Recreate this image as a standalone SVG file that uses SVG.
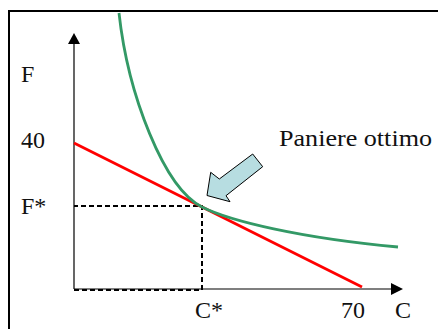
<svg xmlns="http://www.w3.org/2000/svg" width="438" height="329" viewBox="0 0 438 329">
<style>
text{font-family:'Liberation Serif','Times New Roman',serif;font-size:24px;fill:#111}
.axis{stroke:#000;stroke-width:1.2;fill:none}
.dash{stroke:#000;stroke-width:2;stroke-dasharray:5 3;fill:none}
</style>
<rect x="0" y="0" width="438" height="329" fill="#fff"/>
<rect x="9" y="11" width="440" height="330" fill="none" stroke="#000" stroke-width="2"/>
<g id="connectors">
<line class="axis" x1="74" y1="289" x2="74" y2="42" stroke="#555"/>
<polygon points="74,33 68,44 80,44" fill="#000"/>
<line class="axis" x1="74" y1="289" x2="393" y2="289"/>
<polygon points="403,289 391,283 391,295" fill="#000"/>
<polyline class="dash" points="74,290 202,290 202,206 74,206"/>
<line x1="74" y1="143" x2="362" y2="287" stroke="#ff0000" stroke-width="2.8"/>
<path d="M119,13 C128,95 164,188 202,207 C230,221 300,238 398,247" fill="none" stroke="#339966" stroke-width="2.8"/>
</g>
<g id="arrow">
<polygon points="252.7,154 262.7,166.7 226,195.7 230,201.7 207,195.5 210.7,172.3 219.3,179" fill="#b7dde1" stroke="#000" stroke-width="1"/>
</g>
<g id="labels">
<text x="21" y="82">F</text>
<text x="21" y="148">40</text>
<text x="21" y="214">F*</text>
<text x="195" y="318">C*</text>
<text x="341" y="318">70</text>
<text x="395" y="318">C</text>
<text x="279" y="146" textLength="153" lengthAdjust="spacingAndGlyphs">Paniere ottimo</text>
</g>
</svg>
